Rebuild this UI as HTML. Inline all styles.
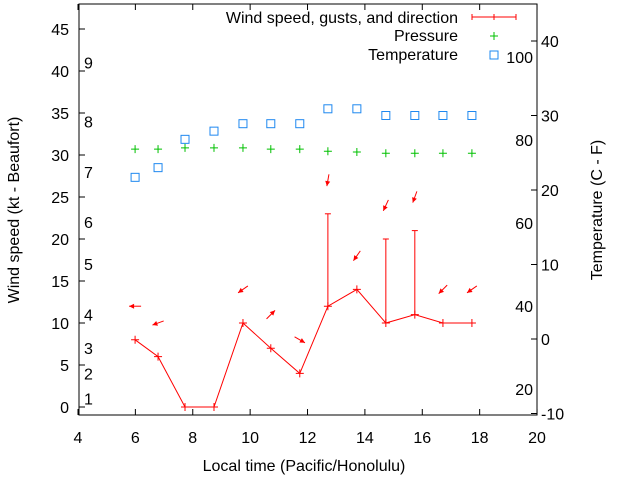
<!DOCTYPE html>
<html><head><meta charset="utf-8"><style>
body{margin:0;background:#fff}
svg text{font-family:"Liberation Sans",sans-serif;font-size:16px;fill:#000}
</style></head><body>
<svg id="c" width="640" height="480" viewBox="0 0 640 480" xmlns="http://www.w3.org/2000/svg"></svg>
<script>
const times=[5.99,6.79,7.73,8.74,9.75,10.72,11.73,12.71,13.72,14.73,15.74,16.72,17.73];
const windSpeed=[8,6,0,0,10,7,4,12,14,10,11,10,10];
const gusts=[null,null,null,null,null,null,null,23,null,20,21,null,null];
const arrowAngles=[180,200,null,null,215,45,-30,260,235,245,250,225,215];
const temperature=[21.7,23,26.8,27.9,28.9,28.9,28.9,30.9,30.9,30,30,30,30];
const pressure=[77.8,77.8,78.1,78.1,78.1,77.8,77.8,77.3,77.1,76.8,76.8,76.8,76.8];
const xTicks=[4,6,8,10,12,14,16,18,20];
const yTicks=[0,5,10,15,20,25,30,35,40,45];
const tTicks=[-10,0,10,20,30,40];
const beaufortVals=[1,4,7,11,17,22,28,34,41];
const beaufortLabels=["1","2","3","4","5","6","7","8","9"];
const pTicks=[20,40,60,80,100];

const L=79,R=537,T=4,B=415;
const X=v=>78+(v-4)*28.69;
const Y=v=>407-v*8.4;
const YT=v=>339-v*7.45;
const YP=v=>389-(v-20)*4.15;
const s=document.getElementById('c');
const NS='http://www.w3.org/2000/svg';
function el(tag,a,name,txt){const e=document.createElementNS(NS,tag);for(const k in a)e.setAttribute(k,a[k]);


if(txt!==undefined)e.textContent=txt;s.appendChild(e);return e;}
el('rect',{x:L,y:T,width:R-L,height:B-T,fill:'none',stroke:'#000','stroke-width':1},'plot-frame');
xTicks.forEach(v=>{const x=X(v);
el('line',{x1:x,x2:x,y1:B,y2:B-6,stroke:'#000'},'x-tick');
el('line',{x1:x,x2:x,y1:T,y2:T+6,stroke:'#000'},'x-tick-top');
el('text',{x:x,y:443,'text-anchor':'middle'},'x-tick-label',v);});
yTicks.forEach(v=>{const y=Y(v);
el('line',{x1:L,x2:L+6,y1:y,y2:y,stroke:'#000'},'y-tick');
el('text',{x:69,y:y+6,'text-anchor':'end'},'y-tick-label',v);});
tTicks.forEach(v=>{const y=YT(v);
el('line',{x1:R,x2:R-6,y1:y,y2:y,stroke:'#000'},'temp-tick');
el('text',{x:541,y:y+6},'temp-tick-label',v);});
beaufortVals.forEach((v,i)=>{el('text',{x:84,y:Y(v)+6},'beaufort-label',beaufortLabels[i]);});
pTicks.forEach(v=>{el('text',{x:533,y:YP(v)+6,'text-anchor':'end'},'pressure-label',v);});
el('text',{x:304,y:471,'text-anchor':'middle'},'x-axis-title','Local time (Pacific/Honolulu)');
el('text',{x:19,y:210,'text-anchor':'middle',transform:'rotate(-90 19 210)'},'y-axis-title','Wind speed (kt - Beaufort)');
el('text',{x:602,y:210,'text-anchor':'middle',transform:'rotate(-90 602 210)'},'y2-axis-title','Temperature (C - F)');
function plus(x,y,c,n){el('path',{d:`M${x-4} ${y}h8M${x} ${y-4}v8`,stroke:c,'stroke-width':1},n);}
temperature.forEach((v,i)=>el('rect',{x:X(times[i])-4,y:YT(v)-4,width:8,height:8,fill:'none',stroke:'#1e88f0','stroke-width':1},'temperature-point'));
pressure.forEach((v,i)=>plus(X(times[i]),YP(v),'#00c000','pressure-point'));
el('polyline',{points:times.map((t,i)=>X(t)+','+Y(windSpeed[i])).join(' '),fill:'none',stroke:'#f00','stroke-width':1},'wind-speed-line');
windSpeed.forEach((v,i)=>plus(X(times[i]),Y(v),'#f00','wind-point'));
gusts.forEach((g,i)=>{if(g==null)return;const x=X(times[i]);
el('line',{x1:x,x2:x,y1:Y(windSpeed[i]),y2:Y(g),stroke:'#f00'},'gust-bar');
el('line',{x1:x-3,x2:x+3,y1:Y(g),y2:Y(g),stroke:'#f00'},'gust-cap');});
arrowAngles.forEach((a,i)=>{if(a==null)return;
const base=gusts[i]!=null?gusts[i]:windSpeed[i];
const cx=X(times[i]),cy=Y(base+4),r=a*Math.PI/180,dx=Math.cos(r),dy=-Math.sin(r),len=6;
const hx=cx+dx*len,hy=cy+dy*len,tx=cx-dx*len,ty=cy-dy*len;
el('line',{x1:tx,y1:ty,x2:hx,y2:hy,stroke:'#f00'},'wind-direction-arrow');
const px=-dy,py=dx;
el('polygon',{points:`${hx},${hy} ${hx-dx*5+px*2.5},${hy-dy*5+py*2.5} ${hx-dx*5-px*2.5},${hy-dy*5-py*2.5}`,fill:'#f00'},'arrow-head');});
el('text',{x:458,y:23,'text-anchor':'end'},'legend-wind-label','Wind speed, gusts, and direction');
el('path',{d:'M472 17h44M472 14v6M516 14v6M494 14v6',stroke:'#f00'},'legend-wind-sample');
el('text',{x:458,y:41,'text-anchor':'end'},'legend-pressure-label','Pressure');
plus(494,36,'#00c000','legend-pressure-sample');
el('text',{x:458,y:60,'text-anchor':'end'},'legend-temperature-label','Temperature');
el('rect',{x:490,y:51,width:8,height:8,fill:'none',stroke:'#1e88f0'},'legend-temperature-sample');
</script>
</body></html>
